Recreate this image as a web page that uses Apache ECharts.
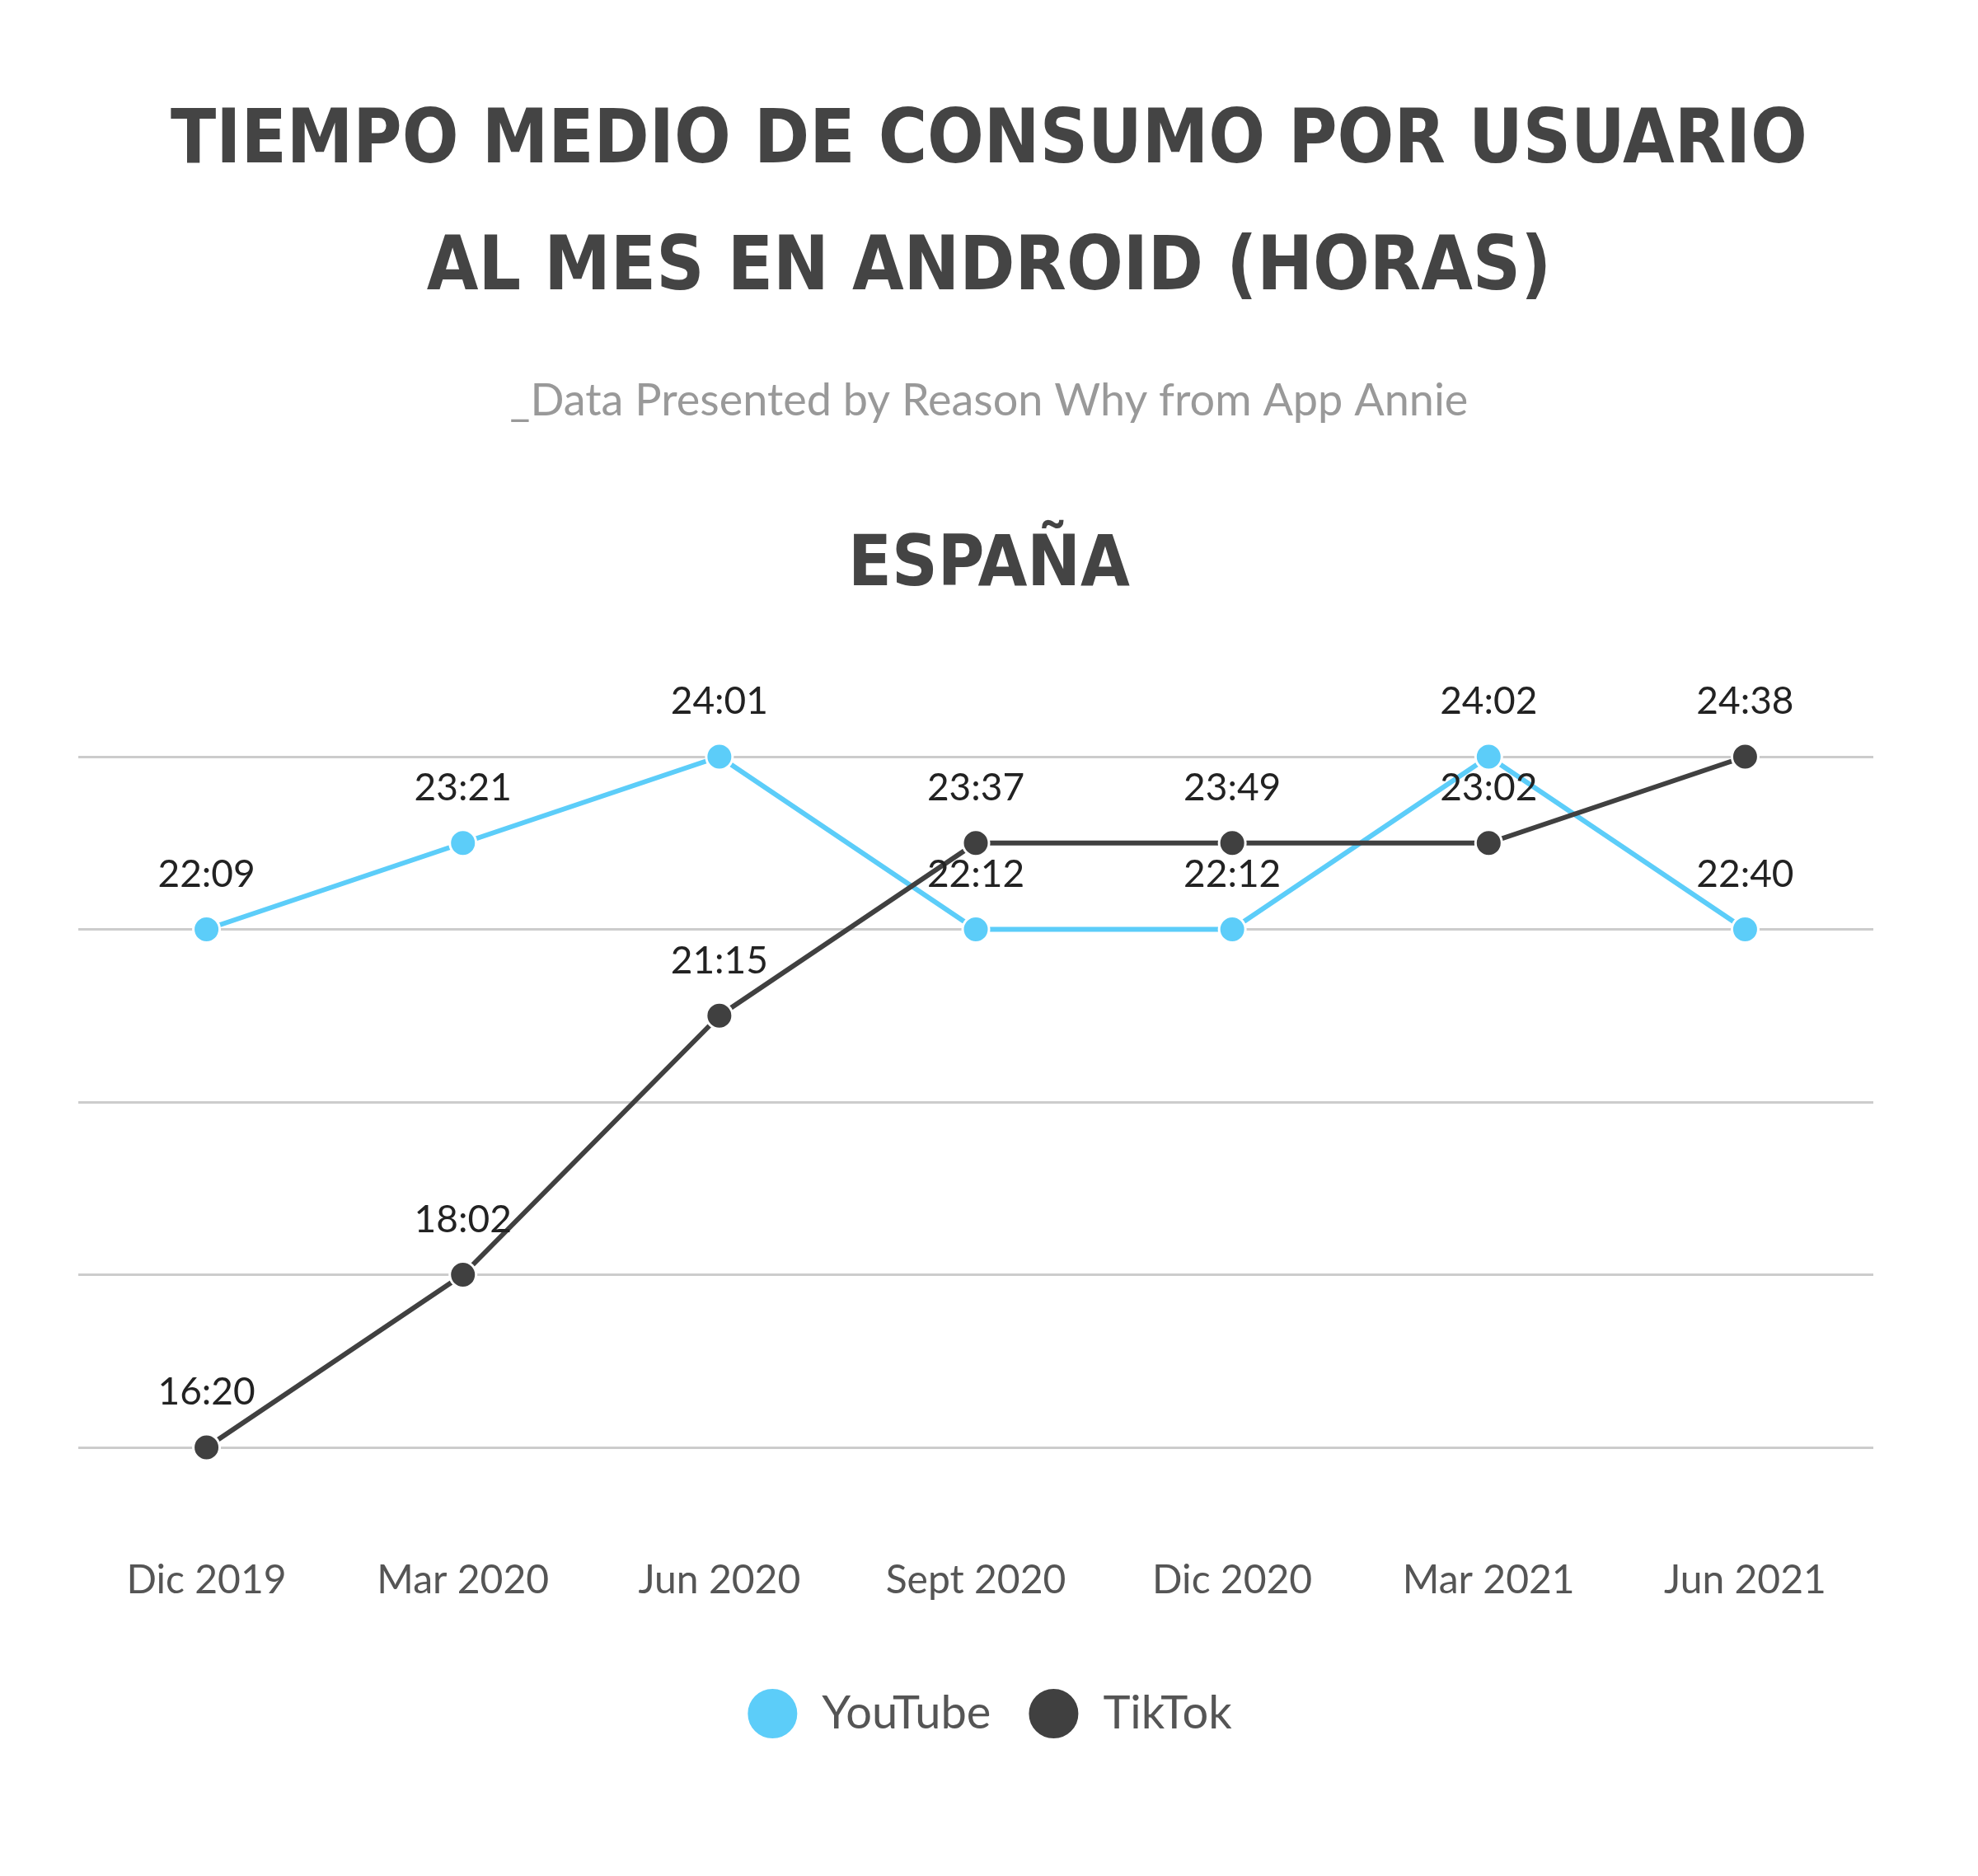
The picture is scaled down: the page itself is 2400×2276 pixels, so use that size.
<!DOCTYPE html>
<html><head><meta charset="utf-8">
<script src="https://cdn.jsdelivr.net/npm/echarts@6/dist/echarts.min.js"></script>
<style>html,body{margin:0;background:#fff}#c{width:2400px;height:2276px}</style>
</head><body><div id="c"></div>
<script>
const categories = ['Dic 2019', 'Mar 2020', 'Jun 2020', 'Sept 2020', 'Dic 2020', 'Mar 2021', 'Jun 2021']
// plotted as whole hours (as in the original), labelled with h:mm
const youtubeHours = [22, 23, 24, 22, 22, 24, 22]
const youtubeLabels = ['22:09', '23:21', '24:01', '22:12', '22:12', '24:02', '22:40']
const tiktokHours = [16, 18, 21, 23, 23, 23, 24]
const tiktokLabels = ['16:20', '18:02', '21:15', '23:37', '23:49', '23:02', '24:38']

const chart = echarts.init(document.getElementById('c'))
const mk = (name, vals, labels, color) => ({
  name, type: 'line', data: vals,
  symbol: 'circle', symbolSize: 32,
  lineStyle: { color, width: 6 },
  itemStyle: { color, borderColor: '#fff', borderWidth: 3 },
  label: {
    show: true, position: 'top', distance: 26,
    fontFamily: 'Lato', fontSize: 46, color: '#222',
    formatter: p => labels[p.dataIndex]
  }
})
chart.setOption({
  animation: false,
  title: [
    { text: 'TIEMPO MEDIO DE CONSUMO POR USUARIO\nAL MES EN ANDROID (HORAS)', left: 'center', top: 92,
      textStyle: { fontFamily: 'DejaVu Sans Condensed', fontWeight: 'bold', fontSize: 90, lineHeight: 154, color: '#444' } },
    { text: '_Data Presented by Reason Why from App Annie', left: 'center', top: 455,
      textStyle: { fontFamily: 'Lato', fontWeight: 'normal', fontSize: 54, color: '#999' } },
    { text: 'ESPAÑA', left: 'center', top: 640,
      textStyle: { fontFamily: 'DejaVu Sans Condensed', fontWeight: 'bold', fontSize: 86, color: '#444' } }
  ],
  legend: {
    bottom: 160, left: 'center', itemWidth: 62, itemHeight: 62, itemGap: 44,
    icon: 'circle',
    textStyle: { fontFamily: 'Lato', fontSize: 56, color: '#555', padding: [0, 0, 0, 24] },
    data: ['YouTube', 'TikTok']
  },
  grid: { left: 95, right: 127, top: 918, bottom: 520 },
  xAxis: {
    type: 'category', data: categories, boundaryGap: true,
    axisLine: { show: false }, axisTick: { show: false },
    axisLabel: { fontFamily: 'Lato', fontSize: 48, color: '#555', margin: 138 }
  },
  yAxis: {
    type: 'value', min: 16, max: 24, interval: 2,
    axisLabel: { show: false },
    splitLine: { lineStyle: { color: '#ccc', width: 3 } }
  },
  series: [
    mk('YouTube', youtubeHours, youtubeLabels, '#5ccdf9'),
    mk('TikTok', tiktokHours, tiktokLabels, '#404040')
  ]
})
</script></body></html>
